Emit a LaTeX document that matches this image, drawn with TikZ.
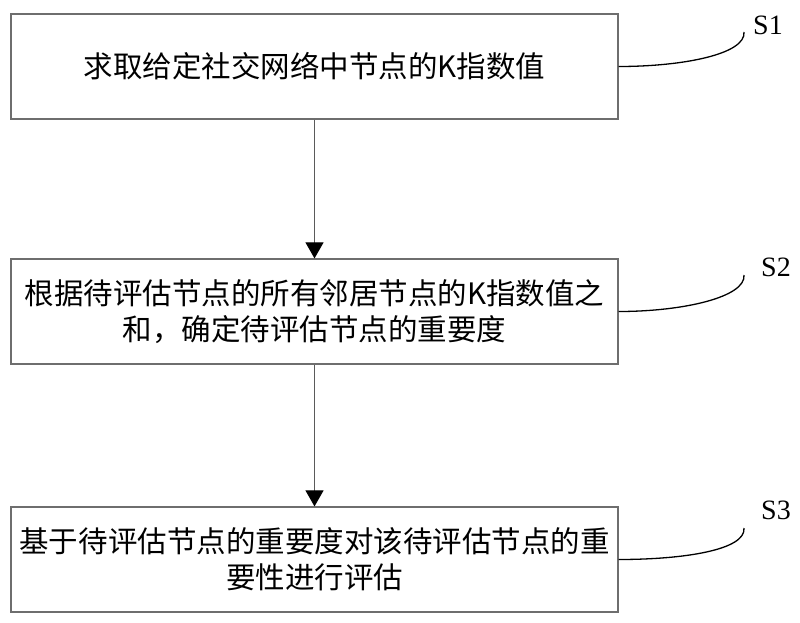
\documentclass[tikz,border=0pt]{standalone}
\usepackage{fontspec}
\setmainfont{Liberation Serif}
\newfontfamily\cjk{Noto Sans CJK SC}
\usepackage{tikz}
\definecolor{boxgray}{RGB}{110, 110, 110}
\definecolor{linegray}{RGB}{90, 90, 90}
\usetikzlibrary{arrows.meta}
\tikzset{
  flow_box/.style = {draw=boxgray, line width=1.2pt, rectangle, align=center,
    inner sep=0pt, minimum width=607pt, minimum height=105pt,
    font=\cjk\fontsize{29.5}{36}\selectfont},% step box
  flow_arr/.style = {draw=linegray, line width=1pt,
    -{Triangle[width=18pt,length=16pt,color=black,fill=black]}},% arrow between boxes
  flow_lbl/.style = {inner sep=0pt, font=\fontsize{28}{28}\selectfont},% step label
  flow_lead/.style = {line width=1.3pt, black},% leader curve
}
\begin{document}
\begin{tikzpicture}[x=1pt,y=-1pt]
\useasboundingbox (0,0) rectangle (800,623);
\node [flow_box] (s1box) at (314.5,66.5) {求取给定社交网络中节点的K指数值};
\node [flow_box] (s2box) at (314.5,311.5) {根据待评估节点的所有邻居节点的K指数值之\\和，确定待评估节点的重要度};
\node [flow_box] (s3box) at (314.5,559.5) {基于待评估节点的重要度对该待评估节点的重\\要性进行评估};
\node [flow_lbl] (s1lbl) at (768,25) {S1};
\node [flow_lbl] (s2lbl) at (776,267) {S2};
\node [flow_lbl] (s3lbl) at (776,510) {S3};
\coordinate (s1end) at (744,32);
\coordinate (s2end) at (744,275);
\coordinate (s3end) at (744,528);
\draw [flow_arr] (s1box) -- (s2box);
\draw [flow_arr] (s2box) -- (s3box);
\draw [flow_lead] (s1box.east) .. controls +(65,0) and +(2,22) .. (s1end);
\draw [flow_lead] (s2box.east) .. controls +(65,0) and +(2,22) .. (s2end);
\draw [flow_lead] (s3box.east) .. controls +(65,0) and +(2,22) .. (s3end);
\end{tikzpicture}
\end{document}
